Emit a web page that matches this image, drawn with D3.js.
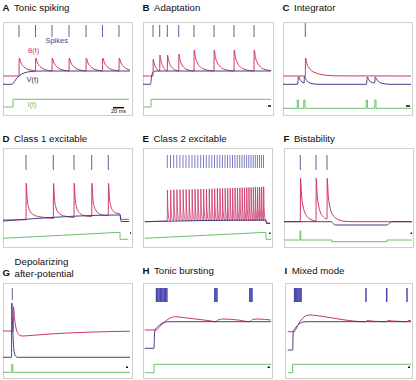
<!DOCTYPE html>
<html>
<head>
<meta charset="utf-8">
<script src="https://cdn.jsdelivr.net/npm/d3@7"></script>
<style>
  body { margin: 0; background: #fff; }
  text { font-family: "Liberation Sans", Arial, sans-serif; }
</style>
</head>
<body>
<div id="chart"></div>
<script>
// Panel letters and titles
var letters = ["A", "B", "C", "D", "E", "F", "G", "H", "I"];
var titles = [["Tonic spiking"], ["Adaptation"], ["Integrator"],
  ["Class 1 excitable"], ["Class 2 excitable"], ["Bistability"],
  ["Depolarizing", "after-potential"], ["Tonic bursting"], ["Mixed mode"]];

// Each trace is [time, value] in panel units (time 0..129, value from box bottom)
// A: tonic spiking
var spikesA = [16, 32.5, 49, 66, 83, 99.5, 116];
var thetaA = [[0,39],[16,39],[16.2,57],[18,52],[20.5,48.5],[24,46],[28,44.8],[32.5,44],
  [32.7,57],[34.5,52],[37,48.5],[40.5,46],[44.5,44.8],[49,44],
  [49.2,57],[51,52],[53.5,48.5],[57,46],[61,44.8],[66,44],
  [66.2,57],[68,52],[70.5,48.5],[74,46],[78,44.8],[83,44],
  [83.2,57],[85,52],[87.5,48.5],[91,46],[95,44.8],[99.5,44],
  [99.7,57],[101.5,52],[104,48.5],[107.5,46],[111.5,44.8],[116,44],
  [116.2,57],[118,52],[120.5,48.5],[124,46],[127,45]];
var voltA = [[0,30.7],[9,30.7],[10.5,32],[12.5,35],[15,38],[18,40.5],[22,42.3],[27,43.4],[33,43.9],[40,44],[127,44]];
var inputA = [[0,8],[10,8],[10,15.7],[126,15.7]];

// B: adaptation
var spikesB = [10, 16.7, 24.3, 35.7, 51, 71, 91, 111];
var thetaB = [[0,39],[10,39],[10.2,55.7],[11.3,51],[12.8,47.5],[14.5,45.3],[16.7,44],
  [16.9,60],[18,54],[19.5,49.5],[21.5,46.3],[24.3,44],
  [24.5,60],[25.8,54],[27.5,49.5],[30,46.3],[32.5,44.8],[35.7,44],
  [35.9,61],[37.2,54.5],[39,50],[42,46.5],[46,44.8],[51,44],
  [51.2,65],[52.5,57.5],[54.5,52],[57.5,48],[62,45.5],[66,44.5],[71,44],
  [71.2,65],[72.5,57.5],[74.5,52],[77.5,48],[82,45.5],[86,44.5],[91,44],
  [91.2,65],[92.5,57.5],[94.5,52],[97.5,48],[102,45.5],[106,44.5],[111,44],
  [111.2,65],[112.5,57.5],[114.5,52],[117.5,48],[122,45.5],[128,44.5]];
var voltB = [[0,30.7],[7.5,30.7],[8.5,38],[9.5,42],[11,43.5],[13,44],[128,44]];
var inputB = [[0,8],[8,8],[8,15.7],[128,15.7]];

// C: integrator
var spikesC = [22.3];
var thetaC = [[0,39],[22.3,39],[22.5,57],[24,51],[26,47],[29,44],[33,42],[38,40.5],[45,39.6],[55,39.1],[128,39]];
var voltC = [[0,30.7],[14.5,30.7],[15.5,38.3],[17,35.5],[19,33],[21,32],[21.5,38.8],[23,35.5],[26,32.5],[30,31.2],[36,30.7],
  [83.5,30.7],[84.3,38],[86,35],[88,33],[91.5,32],[92.3,38],[94,35],[97,32.5],[101,31.2],[108,30.7],[128,30.7]];
var inputC = [[0,6.7],[14.2,6.7],[14.2,15],[15.4,15],[15.4,6.7],[20.8,6.7],[20.8,15],[22,15],[22,6.7],
  [83.2,6.7],[83.2,15],[84.4,15],[84.4,6.7],[91.8,6.7],[91.8,15],[93,15],[93,6.7],[128,6.7]];

// D: class 1 excitable
var spikesD = [23, 50.3, 71, 88.7, 105.3];
var thetaD = [[0,27],[23,27.2],[23.2,63.7],[24.2,48],[25.5,40],[27.5,35],[31,32],[37,30.2],[44,29.2],[50.3,28.6],
  [50.5,63.7],[51.5,48],[52.8,40],[54.8,35],[58,32.3],[63,30.7],[71,29.6],
  [71.2,63.7],[72.2,48],[73.5,40],[75.5,35.5],[78.5,32.5],[83,31],[88.7,30.5],
  [88.9,63.7],[89.9,48],[91.2,40.5],[93.2,36],[96.5,33],[100.5,31.8],[105.3,31.4],
  [105.5,63.7],[106.5,48.5],[107.8,41],[109.8,36.5],[113,34],[117,33],[118,27.7],[126,27.7]];
var voltD = [[0,26],[117,32],[118,25.5],[126,25.5]];
var inputD = [[0,8.7],[117,14.7],[117,7.7],[125,7.7]];

// E: class 2 excitable
var spikesE = [24.3, 27.5, 30.7, 33.8, 36.9, 40.0, 43.0, 46.0, 49.0, 51.9, 54.8, 57.7, 60.5, 63.3, 66.1, 68.8,
  71.5, 74.2, 76.8, 79.4, 82.0, 84.5, 87.0, 89.5, 91.9, 94.3, 96.7, 99.0, 101.3, 103.6, 105.8, 108.0,
  110.2, 112.3, 114.4, 116.5, 118.5, 120.5];
var peaksE = [57.0, 57.1, 57.2, 57.3, 57.4, 57.5, 57.5, 57.6, 57.7, 57.8, 57.9, 58.0, 58.0, 58.1, 58.2, 58.3,
  58.4, 58.5, 58.5, 58.6, 58.7, 58.8, 58.9, 59.0, 59.0, 59.1, 59.2, 59.3, 59.4, 59.5, 59.5, 59.6,
  59.7, 59.8, 59.9, 60.0, 60.1, 60.3];
var restE = 26;
var voltE = [[1.7,25.3],[123,27],[123.5,23.5],[127,23.5]];
var inputE = [[1.7,8.7],[123,14.7],[123,7.7],[128,7.7]];

// F: bistability
var spikesF = [16.3, 32, 43];
var thetaF = [[0,25.3],[16.3,25.3],[16.5,68.7],[17.5,52],[19,41],[21,34],[24,29.5],[28,27],[32,26],
  [32.2,68.7],[33.2,52],[34.7,41],[36.7,34],[39.5,30],[43,28],
  [43.2,68.7],[44.2,52],[45.7,41],[47.7,34],[51,29.5],[55,27],[60,25.8],[70,25.3],[128,25.3]];
var voltF = [[0,25.3],[47,25.3],[49,23.5],[51.3,22],[103,22],[105.5,23.8],[108,25.3],[128,25.3]];
var inputF = [[0,7],[16,7],[16,16],[16.8,16],[16.8,7],[48,7],[48,5.3],[103,5.3],[103,7],[128,7]];

// G: depolarizing after-potential
var spikesG = [9.3];
var thetaG = [[0,47],[10.3,47],[10.5,71.3],[11.5,60],[13,50],[15,44.5],[17,42.5],[19,42],[25,42.3],[40,43.5],
  [60,44.8],[85,45.8],[110,46.5],[127,46.8]];
var voltG = [[0,20.7],[8.5,20.7],[8.8,75],[9.4,58],[10.2,38],[11.2,26],[12.6,21.8],[15,20.7],[127,20.7]];
var inputG = [[0,5.7],[8.8,5.7],[8.8,13.7],[9.8,13.7],[9.8,5.7],[127,5.7]];

// H: tonic bursting
var spikesH = [13.5, 14.8, 16.1, 17.4, 18.7, 20, 21.3, 22.6, 23.9, 71.8, 72.9, 74, 106.8, 107.9, 109];
var thetaH = [[1.7,48],[13.3,48],[16.7,51.3],[21.7,56.3],[26.7,59.7],[31.7,61.3],[41.7,60.3],[55,58.7],[68.3,57],
  [72.3,56.3],[75,58],[80,59],[95,58],[106.7,56.3],[110,58.7],[115,59],[127.7,58]];
var voltH = [[1.7,29.7],[11,29.7],[11.6,46],[12.5,48.5],[15,51.5],[18,54],[21,55.5],[25,56.2],[30,56.3],[128,56.3]];
var inputH = [[1.7,5.3],[11,5.3],[11,13.7],[128,13.7]];

// I: mixed mode
var spikesI = [9.6, 10.7, 11.8, 12.9, 14, 15.1, 16.1, 81, 101.7, 122];
var thetaI = [[2.7,46.3],[9.3,46.3],[11,49],[13.5,54],[16,58],[19,61],[22,62.6],[25,63],[30,62.6],[40,61.2],
  [50,59.6],[60,58],[70,56.8],[78,56.3],[81,56.3],[82,57.5],[86,57],[95,56.5],[101.7,56.3],[102.7,57.5],
  [107,57],[116,56.5],[122,56.3],[123,57.5],[126,57.2]];
var voltI = [[2.7,28],[7.7,28],[8.2,46.3],[10,49.5],[12.5,52.5],[15,54.8],[18,56],[22,56.3],[126,56.3]];
var inputI = [[2.7,5.3],[7.7,5.3],[7.7,13.7],[126,13.7]];

// Build the Class 2 threshold trace from spike times and peak heights
var thetaE = [[1.7, 25.3], [24.3, restE]];
spikesE.forEach(function(s, i) {
  thetaE.push([s, restE], [s + 0.15, peaksE[i]], [s + 0.6, restE + 12], [s + 1.4, restE + 2.5]);
});
thetaE.push([122, 27], [123.5, 24], [127, 24]);

var spikes = [spikesA, spikesB, spikesC, spikesD, spikesE, spikesF, spikesG, spikesH, spikesI];
var thetas = [thetaA, thetaB, thetaC, thetaD, thetaE, thetaF, thetaG, thetaH, thetaI];
var volts = [voltA, voltB, voltC, voltD, voltE, voltF, voltG, voltH, voltI];
var inputs = [inputA, inputB, inputC, inputD, inputE, inputF, inputG, inputH, inputI];

// Layout of the panel boxes
var boxes = [
  {x: 3, y: 22, w: 129, h: 93}, {x: 143, y: 22, w: 130, h: 93}, {x: 283, y: 22, w: 129, h: 93},
  {x: 3, y: 148, w: 129, h: 99}, {x: 143, y: 148, w: 129, h: 99}, {x: 284, y: 148, w: 129, h: 99},
  {x: 3, y: 283, w: 129, h: 95}, {x: 143, y: 283, w: 129, h: 95}, {x: 285, y: 283, w: 127, h: 95}
];
var titleBase = [10.5, 10.5, 10.5, 141.5, 141.5, 141.5, 274, 274, 274];
var tickRange = [[78,90],[78,90],[78,92],[77,92],[79,92],[77,92],[78,90],[76,90],[76,90]];
var scaleBars = [[110,121,7.3],[125,128,9],[123,127,9],[127,128,14],[126,127.5,13.7],[126.5,128,13.7],
  [123,125,10.7],[124.5,127,10.7],[123,125,10.7]];

var svg = d3.select("#chart")
  .append("svg")
  .attr("width", 416)
  .attr("height", 380);

boxes.forEach(function(b, i) {
  var x = d3.scaleLinear().domain([0, b.w]).range([b.x, b.x + b.w]);
  var y = d3.scaleLinear().domain([0, b.h]).range([b.y + b.h, b.y]);
  var g = svg.append("g");

  // Box
  g.append("rect")
    .attr("x", b.x + 0.5).attr("y", b.y + 0.5)
    .attr("width", b.w).attr("height", b.h)
    .attr("fill", "#fff").attr("stroke", "#cfcfcf").attr("stroke-width", 1);

  // Title
  if (titles[i].length === 1) {
    var t = g.append("text").attr("x", b.x - 0.5).attr("y", titleBase[i])
      .attr("font-size", "9.7px").attr("fill", "#111");
    t.append("tspan").attr("font-weight", "bold").text(letters[i]);
    t.append("tspan").attr("dx", 4.5).text(titles[i][0]);
  } else {
    g.append("text").attr("x", b.x - 0.5).attr("y", titleBase[i] + 2)
      .attr("font-size", "9.7px").attr("font-weight", "bold").attr("fill", "#111").text(letters[i]);
    titles[i].forEach(function(line, k) {
      g.append("text").attr("x", b.x + 11.5).attr("y", titleBase[i] - 9 + k * 11.5)
        .attr("font-size", "9.7px").attr("fill", "#111").text(line);
    });
  }

  // Spike raster
  var dense = (i === 7 || i === 8);
  g.selectAll(".tick")
    .data(spikes[i])
    .enter()
    .append("line")
    .attr("x1", function(d) { return x(d); })
    .attr("x2", function(d) { return x(d); })
    .attr("y1", y(tickRange[i][0]))
    .attr("y2", y(tickRange[i][1]))
    .attr("stroke", dense ? "#4a4aae" : (i === 4 ? "#5a5ab8" : "#62629e"))
    .attr("stroke-width", dense ? 1.5 : (i === 4 ? 0.8 : 1));

  var line = d3.line()
    .x(function(d) { return x(d[0]); })
    .y(function(d) { return y(d[1]); });

  // Threshold theta(t)
  g.append("path")
    .datum(thetas[i])
    .attr("d", line.curve(i === 4 ? d3.curveLinear : d3.curveMonotoneX))
    .attr("fill", "none")
    .attr("stroke", "#cc3569")
    .attr("stroke-width", i === 4 ? 0.8 : 1);

  // Voltage V(t)
  g.append("path")
    .datum(volts[i])
    .attr("d", line.curve(d3.curveMonotoneX))
    .attr("fill", "none")
    .attr("stroke", "#2e2e7e")
    .attr("stroke-opacity", 0.9)
    .attr("stroke-width", 1);

  // Input current I(t)
  g.append("path")
    .datum(inputs[i])
    .attr("d", line.curve(d3.curveLinear))
    .attr("fill", "none")
    .attr("stroke", "#6cc06c")
    .attr("stroke-width", 1);

  // Time scale bar
  g.append("line")
    .attr("x1", x(scaleBars[i][0])).attr("x2", x(scaleBars[i][1]))
    .attr("y1", y(scaleBars[i][2])).attr("y2", y(scaleBars[i][2]))
    .attr("stroke", "#111").attr("stroke-width", 1.5);

  // Trace labels in the first panel
  if (i === 0) {
    var labels = [["Spikes", 53.7, 71.7, "#4444a6"], ["\u03b8(t)", 30.7, 62.3, "#c8365e"],
      ["V(t)", 29.5, 33.3, "#2e2e7e"], ["I(t)", 29, 7.7, "#6cc06c"]];
    labels.forEach(function(l) {
      g.append("text").attr("x", x(l[1])).attr("y", y(l[2]))
        .attr("text-anchor", "middle").attr("font-size", "7.5px")
        .attr("fill", l[3]).text(l[0]);
    });
    g.append("text").attr("x", x(115.5)).attr("y", y(2))
      .attr("text-anchor", "middle").attr("font-size", "5.5px")
      .attr("fill", "#111").text("20 ms");
  }
});
</script>
</body>
</html>
